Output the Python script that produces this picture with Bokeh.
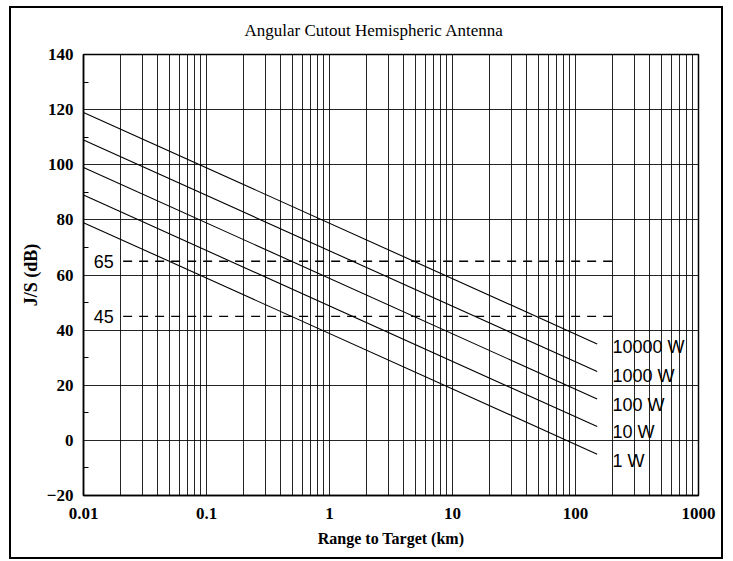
import math
from bokeh.plotting import figure
from bokeh.models import FixedTicker, CustomJSTickFormatter, ColumnDataSource
from bokeh.core.properties import value
from bokeh.embed import file_html
from bokeh.resources import INLINE

# ---- data ----
chart_title = "Angular Cutout Hemispheric Antenna"
power_labels = ["1 W", "10 W", "100 W", "1000 W", "10000 W"]
range_start_km = [0.01, 0.01, 0.01, 0.01, 0.01]
range_end_km = [150, 150, 150, 150, 150]
js_start_db = [79, 89, 99, 109, 119]
js_end_db = [-5, 5, 15, 25, 35]
label_x_km = 200
label_y_db = [-7.5, 3, 13, 23.5, 34]
ref_levels_db = [65, 45]
ref_start_km = 0.021
ref_end_km = 200
ref_label_x_km = 0.0121
x_major_ticks = [0.01, 0.1, 1, 10, 100, 1000]
x_grid_ticks = [m * d for d in [0.01, 0.1, 1, 10, 100] for m in range(1, 10)] + [1000]
y_major_ticks = [-20, 0, 20, 40, 60, 80, 100, 120, 140]
y_minor_ticks = [-10, 10, 30, 50, 70, 90, 110, 130]

SERIF = "Liberation Serif"
SANS = "Liberation Sans"

p = figure(width=714, height=553, x_axis_type="log",
           x_range=(0.01, 1000), y_range=(-20, 140),
           output_backend="svg", toolbar_location=None,
           min_border_left=72, min_border_right=27,
           min_border_top=45, min_border_bottom=66,
           title=chart_title)
p.styles = {"border": "2px solid black", "margin-left": "9px", "margin-top": "6px"}

p.title.align = "left"
p.title.vertical_align = "top"
p.title.offset = 161
p.title.standoff = 25
p.title.text_font = SERIF
p.title.text_font_size = "17px"
p.title.text_font_style = "normal"
p.title.text_color = "black"

p.outline_line_color = "black"
p.outline_line_width = 1.5
p.background_fill_color = "white"

# x axis
p.xaxis.ticker = FixedTicker(ticks=x_major_ticks, minor_ticks=[])
p.xaxis.formatter = CustomJSTickFormatter(code="return tick.toString();")
p.xaxis.major_tick_in = 0
p.xaxis.major_tick_out = 0
p.xaxis.minor_tick_in = 0
p.xaxis.minor_tick_out = 0
p.xaxis.axis_label = "Range to Target (km)"
p.xaxis.major_label_standoff = 12
p.xaxis.axis_label_standoff = 8

# y axis
p.yaxis.ticker = FixedTicker(ticks=y_major_ticks, minor_ticks=y_minor_ticks)
p.yaxis.major_tick_in = 0
p.yaxis.major_tick_out = 0
p.yaxis.minor_tick_in = 5
p.yaxis.minor_tick_out = 0
p.yaxis.minor_tick_line_color = "black"
p.yaxis.axis_label = "J/S (dB)"
p.yaxis.major_label_standoff = 10
p.yaxis.axis_label_standoff = 3

for ax in (p.xaxis[0], p.yaxis[0]):
    ax.axis_line_color = "black"
    ax.axis_line_width = 1.5
    ax.major_label_text_font = SERIF
    ax.major_label_text_font_style = "bold"
    ax.major_label_text_font_size = "17px"
    ax.major_label_text_color = "black"
    ax.axis_label_text_font = SERIF
    ax.axis_label_text_font_style = "bold"
    ax.axis_label_text_color = "black"
p.xaxis.axis_label_text_font_size = "16px"
p.yaxis.axis_label_text_font_size = "18px"

# grids
p.xgrid.ticker = FixedTicker(ticks=x_grid_ticks)
p.xgrid.grid_line_color = "black"
p.xgrid.grid_line_alpha = 0.85
p.xgrid.grid_line_width = 1
p.ygrid.ticker = FixedTicker(ticks=y_major_ticks)
p.ygrid.grid_line_color = "black"
p.ygrid.grid_line_alpha = 0.85
p.ygrid.grid_line_width = 1

# reference dashed lines
for lvl in ref_levels_db:
    p.line([ref_start_km, ref_end_km], [lvl, lvl], line_color="black",
           line_width=1.4, line_dash="9 7")
p.text(x=[ref_label_x_km] * len(ref_levels_db), y=ref_levels_db,
       text=[str(v) for v in ref_levels_db], text_font=value(SANS),
       text_font_size="18px", text_baseline="middle", text_align="left",
       text_color="black")

# power lines
for x0, x1, y0, y1 in zip(range_start_km, range_end_km, js_start_db, js_end_db):
    p.line([x0, x1], [y0, y1], line_color="black", line_width=1.1)

src = ColumnDataSource(dict(x=[label_x_km] * len(power_labels), y=label_y_db, t=power_labels))
p.text(x="x", y="y", text="t", source=src, text_font=value(SANS),
       text_font_size="18px", text_baseline="middle", text_align="left",
       text_color="black")

open("out.html", "w").write(file_html(p, INLINE))
